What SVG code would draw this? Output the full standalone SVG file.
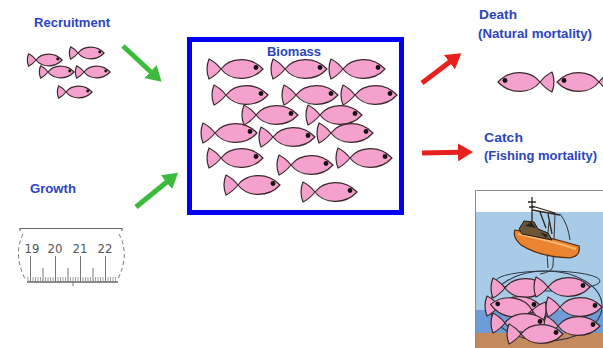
<svg xmlns="http://www.w3.org/2000/svg" xmlns:xlink="http://www.w3.org/1999/xlink" width="603" height="348" viewBox="0 0 603 348">
  <style>
    .lbl { font-family: "Liberation Sans", Arial, sans-serif; font-size: 13px; font-weight: bold; fill: #2b45bf; }
    .fishbody { fill: #f4a2cd; stroke: #3a2a2e; stroke-width: 1.2; vector-effect: non-scaling-stroke; stroke-linejoin: round; }
    .eye { fill: #111; }
    .num { font-family: "DejaVu Sans Condensed", "DejaVu Sans", sans-serif; font-size: 13px; fill: #555; text-anchor: middle; }
    .tick { stroke: #777; stroke-width: 1; }
    .green { stroke: #3dbb3d; stroke-width: 5; fill: none; }
    .red { stroke: #e8201d; stroke-width: 5; fill: none; }
  </style>
  <defs>
    <g id="fish">
      <path class="fishbody" d="M55,0 C43,-13 22,-12 13,0 C9,5 5,8 1,10 Q-3,0 1,-10 C5,-8 9,-5 13,0 C22,12 43,13 55,0 Z"/>
      <circle class="eye" cx="48" cy="-1.5" r="2.4"/>
    </g>
    <marker id="headGreen" markerUnits="userSpaceOnUse" markerWidth="16" markerHeight="18" refX="2" refY="9" orient="auto">
      <path d="M0,0 L15,9 L0,18 Z" fill="#3dbb3d"/>
    </marker>
    <marker id="headRed" markerUnits="userSpaceOnUse" markerWidth="16" markerHeight="18" refX="2" refY="9" orient="auto">
      <path d="M0,0 L15,9 L0,18 Z" fill="#e8201d"/>
    </marker>
    <clipPath id="frameClip">
      <rect x="475" y="190" width="128" height="158"/>
    </clipPath>
  </defs>

  <rect width="603" height="348" fill="#ffffff"/>

  <!-- Recruitment: label and a small school of fish -->
  <g id="recruitment">
    <text class="lbl" x="34" y="27" textLength="76" lengthAdjust="spacingAndGlyphs">Recruitment</text>
    <use xlink:href="#fish" transform="translate(28,60) scale(0.62)"/>
    <use xlink:href="#fish" transform="translate(70,53) scale(0.62)"/>
    <use xlink:href="#fish" transform="translate(40,72) scale(0.62)"/>
    <use xlink:href="#fish" transform="translate(76,72) scale(0.62)"/>
    <use xlink:href="#fish" transform="translate(58,92) scale(0.62)"/>
  </g>

  <!-- Growth: label and a ruler -->
  <g id="growth">
    <text class="lbl" x="30" y="193" textLength="46" lengthAdjust="spacingAndGlyphs">Growth</text>
    <path d="M20,231 L20,228.5 L122,228.5 L122,231" fill="none" stroke="#666" stroke-width="1.2"/>
    <path d="M23,234 Q13,254 25,279" fill="none" stroke="#777" stroke-width="1" stroke-dasharray="4,3"/>
    <path d="M119,234 Q130,254 118,279" fill="none" stroke="#777" stroke-width="1" stroke-dasharray="4,3"/>
    <text class="num" x="32" y="253">19</text>
    <text class="num" x="55" y="253">20</text>
    <text class="num" x="80" y="253">21</text>
    <text class="num" x="105" y="253">22</text>
    <line x1="27" y1="282" x2="118" y2="282" stroke="#666" stroke-width="1.5"/>
    <g class="tick">
      <line x1="30.5" y1="256" x2="30.5" y2="282"/>
      <line x1="55.5" y1="256" x2="55.5" y2="282"/>
      <line x1="80.5" y1="256" x2="80.5" y2="282"/>
      <line x1="105.5" y1="256" x2="105.5" y2="282"/>
      <line x1="43" y1="268" x2="43" y2="282"/>
      <line x1="68" y1="268" x2="68" y2="282"/>
      <line x1="93" y1="268" x2="93" y2="282"/>
      <line x1="73" y1="282" x2="73" y2="286"/>
    </g>
    <path stroke="#888" stroke-width="0.8" fill="none" d="M28,277V282 M33,277V282 M35.5,277V282 M38,277V282 M40.5,277V282 M45.5,277V282 M48,277V282 M50.5,277V282 M53,277V282 M58,277V282 M60.5,277V282 M63,277V282 M65.5,277V282 M70.5,277V282 M73,277V282 M75.5,277V282 M78,277V282 M83,277V282 M85.5,277V282 M88,277V282 M90.5,277V282 M95.5,277V282 M98,277V282 M100.5,277V282 M103,277V282 M108,277V282 M110.5,277V282 M113,277V282 M115.5,277V282"/>
  </g>

  <!-- Biomass: the stock inside a blue frame -->
  <g id="biomass">
    <rect x="189.5" y="39.5" width="212" height="173" fill="#ffffff" stroke="#0000ee" stroke-width="5"/>
    <text class="lbl" x="267" y="56" textLength="54" lengthAdjust="spacingAndGlyphs">Biomass</text>
    <use xlink:href="#fish" transform="translate(208,69)"/>
    <use xlink:href="#fish" transform="translate(272,69)"/>
    <use xlink:href="#fish" transform="translate(330,69)"/>
    <use xlink:href="#fish" transform="translate(213,95)"/>
    <use xlink:href="#fish" transform="translate(283,95)"/>
    <use xlink:href="#fish" transform="translate(342,95)"/>
    <use xlink:href="#fish" transform="translate(243,115)"/>
    <use xlink:href="#fish" transform="translate(307,115)"/>
    <use xlink:href="#fish" transform="translate(202,133)"/>
    <use xlink:href="#fish" transform="translate(260,137)"/>
    <use xlink:href="#fish" transform="translate(318,133)"/>
    <use xlink:href="#fish" transform="translate(208,158)"/>
    <use xlink:href="#fish" transform="translate(278,165)"/>
    <use xlink:href="#fish" transform="translate(337,158)"/>
    <use xlink:href="#fish" transform="translate(225,185)"/>
    <use xlink:href="#fish" transform="translate(302,192)"/>
  </g>

  <!-- Death: natural mortality -->
  <g id="death">
    <text class="lbl" x="479" y="19" textLength="38" lengthAdjust="spacingAndGlyphs">Death</text>
    <text class="lbl" x="478" y="38" textLength="114" lengthAdjust="spacingAndGlyphs">(Natural mortality)</text>
    <use xlink:href="#fish" transform="translate(553,82) scale(-1,1)"/>
    <use xlink:href="#fish" transform="translate(612,82) scale(-1,1)"/>
  </g>

  <!-- Catch: fishing mortality, a purse-seine scene -->
  <g id="catch">
    <text class="lbl" x="484" y="142" textLength="39" lengthAdjust="spacingAndGlyphs">Catch</text>
    <text class="lbl" x="484" y="160" textLength="113" lengthAdjust="spacingAndGlyphs">(Fishing mortality)</text>
    <g clip-path="url(#frameClip)">
      <rect x="475" y="190" width="128" height="158" fill="#ffffff"/>
      <rect x="475" y="212" width="128" height="99" fill="#a8cce8"/>
      <rect x="475" y="310" width="128" height="24" fill="#6d9cd6"/>
      <rect x="475" y="333" width="128" height="15" fill="#c58a5c"/>
      <!-- warp lines from the gantry down to the net -->
      <path d="M555,213 L553,266 Q552,272 540,274 M549,222 Q546,248 548,268 M560,214 Q568,224 570,240" fill="none" stroke="#33312e" stroke-width="1"/>
      <!-- mast and rigging -->
      <path d="M532,197 L532,226 M528,202 L536,202 M529,207 L535,207 M532,206 L555,213 M532,210 L560,215 M540,212 L546,228 M548,214 L552,234" fill="none" stroke="#2c2620" stroke-width="1.3"/>
      <!-- hull, bow to the upper left -->
      <path d="M515,230 Q545,236 579,246 Q581,256 570,258 Q540,257 521,245 Q512,237 515,230 Z" fill="#ea8430" stroke="#4e2a10" stroke-width="1.2"/>
      <path d="M518,234 Q548,240 576,249" stroke="#f7b872" stroke-width="2" fill="none"/>
      <!-- deck house -->
      <path d="M519,229 L524,221 L534,222 L538,229 L548,233 L552,240 L522,234 Z" fill="#6b5638" stroke="#1f1a14" stroke-width="1"/>
      <path d="M525,226 L531,222 L536,228 Z M540,232 L548,235 L546,238 Z" fill="#2a241e"/>
      <!-- net -->
      <ellipse cx="546" cy="306" rx="56" ry="35" fill="none" stroke="#2f3a44" stroke-width="1.1"/>
      <ellipse cx="548" cy="281" rx="52" ry="10" fill="none" stroke="#2f3a44" stroke-width="1"/>
      <!-- catch in the net -->
      <use xlink:href="#fish" transform="translate(492,288)"/>
      <use xlink:href="#fish" transform="translate(535,287)"/>
      <use xlink:href="#fish" transform="translate(486,306)"/>
      <use xlink:href="#fish" transform="translate(545,312) scale(-1,1) rotate(-8)"/>
      <use xlink:href="#fish" transform="translate(547,307)"/>
      <use xlink:href="#fish" transform="translate(492,323)"/>
      <use xlink:href="#fish" transform="translate(545,326)"/>
      <use xlink:href="#fish" transform="translate(508,334)"/>
    </g>
    <path d="M475.5,348 L475.5,190.5 L603,190.5" fill="none" stroke="#8c8c8c" stroke-width="1"/>
  </g>

  <!-- Flow arrows -->
  <g id="connectors">
    <line class="green" x1="123" y1="46" x2="152" y2="73" marker-end="url(#headGreen)"/>
    <line class="green" x1="136" y1="207" x2="168" y2="181" marker-end="url(#headGreen)"/>
    <line class="red" x1="422" y1="83" x2="451" y2="61" marker-end="url(#headRed)"/>
    <line class="red" x1="422" y1="153" x2="460" y2="152.3" marker-end="url(#headRed)"/>
  </g>
</svg>
